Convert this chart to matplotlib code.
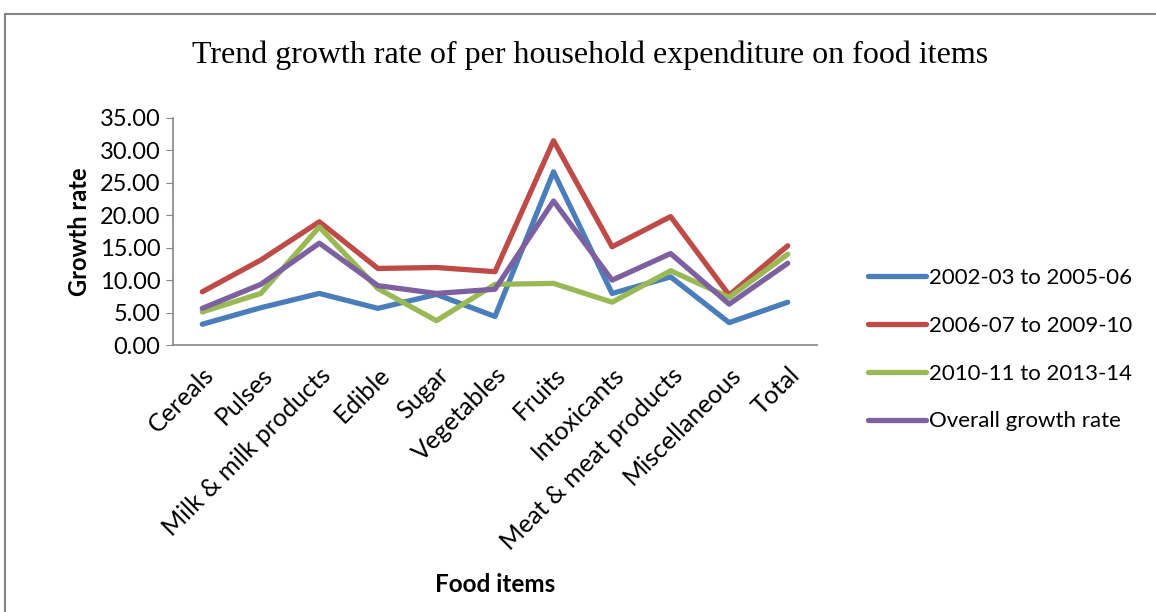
import matplotlib.pyplot as plt
from matplotlib.lines import Line2D

# food item categories
foods = ['Cereals', 'Pulses', 'Milk & milk products', 'Edible', 'Sugar', 'Vegetables',
         'Fruits', 'Intoxicants', 'Meat & meat products', 'Miscellaneous', 'Total']

# growth rates per period
p1 = [3.2, 5.75, 7.95, 5.65, 7.8, 4.4, 26.7, 7.95, 10.5, 3.45, 6.6]
p2 = [8.2, 13.1, 19.0, 11.8, 11.95, 11.3, 31.5, 15.15, 19.8, 7.7, 15.3]
p3 = [5.1, 7.95, 18.2, 8.7, 3.75, 9.35, 9.5, 6.6, 11.45, 7.35, 14.0]
overall = [5.65, 9.35, 15.7, 9.15, 7.95, 8.6, 22.2, 10.0, 14.1, 6.3, 12.6]

labels = ['2002-03 to 2005-06', '2006-07 to 2009-10', '2010-11 to 2013-14', 'Overall growth rate']
colors = ['#4A7EBB', '#BE4B48', '#98B954', '#7D60A0']

font = 'Lato'
fs = 17
fig = plt.figure(figsize=(11.56, 6.12), dpi=100)
ax = fig.add_axes([173/1156, 1 - 345/612, (817 - 173)/1156, (345 - 118)/612])

for vals, lab, col in zip([p1, p2, p3, overall], labels, colors):
    ax.plot(range(len(foods)), vals, color=col, lw=3.8, label=lab, solid_capstyle='round')

ax.set_ylim(0, 35)
ax.set_xlim(-0.5, len(foods) - 0.5)
ax.set_yticks(range(0, 36, 5))
ax.set_yticklabels(['%.2f' % v for v in range(0, 36, 5)], fontsize=fs, family=font)
ax.set_xticks(range(len(foods)))
ax.set_xticklabels(foods, rotation=45, ha='right', rotation_mode='anchor', fontsize=18, family=font)
ax.tick_params(axis='x', length=0, pad=13)
ax.tick_params(axis='y', length=5, color='#868686', pad=4)
for s in ['top', 'right']:
    ax.spines[s].set_visible(False)
for s in ['left', 'bottom']:
    ax.spines[s].set_color('#868686')
    ax.spines[s].set_linewidth(1.2)

ax.set_ylabel('Growth rate', fontsize=fs, fontweight='bold', family=font, labelpad=6)
fig.text(495/1156, 1 - 585/612, 'Food items', fontsize=fs + 0.5, fontweight='bold', family=font,
         ha='center', va='center')
fig.text(590/1156, 1 - 55/612, 'Trend growth rate of per household expenditure on food items',
         fontsize=23, family='Liberation Serif', ha='center', va='center')

leg = fig.legend(loc='upper left', bbox_to_anchor=(848/1156, 1 - 248/612), frameon=False,
                 prop={'family': font, 'size': 16}, handlelength=2.6,
                 handletextpad=0.15, labelspacing=1.25)

# outer chart border (left and top edges visible)
fig.add_artist(Line2D([5/1156, 5/1156], [0, 1 - 14/612], transform=fig.transFigure,
                      color='#868686', lw=1.5))
fig.add_artist(Line2D([5/1156, 1], [1 - 14/612, 1 - 14/612], transform=fig.transFigure,
                      color='#868686', lw=1.5))

fig.savefig('out.png', dpi=100)
